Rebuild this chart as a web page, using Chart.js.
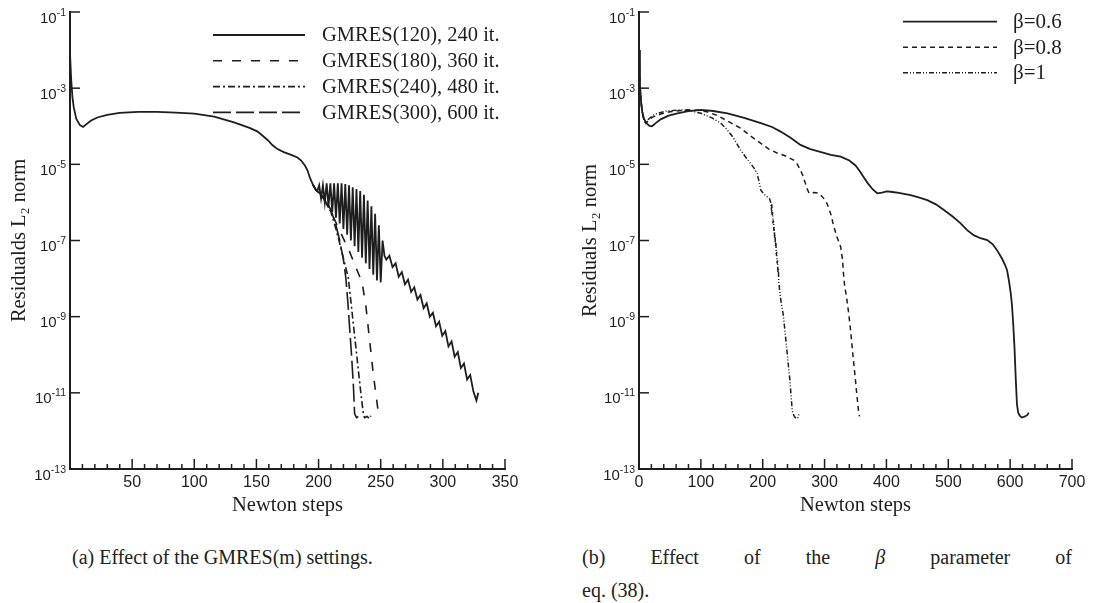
<!DOCTYPE html>
<html>
<head>
<meta charset="utf-8">
<script src="https://cdn.jsdelivr.net/npm/chart.js@4.4.1/dist/chart.umd.min.js"></script>
<style>
  html, body { margin: 0; padding: 0; background: #fff; }
  body { width: 1112px; height: 603px; position: relative; overflow: hidden; }
  canvas { position: absolute; top: 0; }
  #left  { left: 0; }
  #right { left: 556px; }
  .cap { position: absolute; font-family: 'Liberation Serif', 'Times New Roman', serif; font-size: 20px; color: #222; white-space: nowrap; }
</style>
</head>
<body>
<canvas id="left" width="556" height="530"></canvas>
<canvas id="right" width="556" height="530"></canvas>
<div class="cap" style="left:72px; top:546px;">(a) Effect of the GMRES(m) settings.</div>
<div class="cap" style="left:582px; top:546px; width:490px; text-align:justify; text-align-last:justify;">(b) Effect of the <i>β</i> parameter of</div>
<div class="cap" style="left:582px; top:579px;">eq. (38).</div>
<script>
// points are [Newton step, log10(residual)]
const gmres120 = [[0,-2.1],[1,-2.8],[2,-3.25],[3,-3.5],[5,-3.8],[8,-3.97],[10.5,-4.02],[13,-3.95],[17,-3.85],[22,-3.77],
  [30,-3.7],[40,-3.65],[55,-3.62],[70,-3.62],[85,-3.64],[100,-3.67],[116,-3.75],[132,-3.9],[145,-4.05],[151,-4.14],
  [155,-4.25],[159,-4.36],[163,-4.5],[167,-4.6],[172,-4.68],[178,-4.75],[183,-4.82],[186,-4.9],[189,-5.03],[191,-5.15],
  [193,-5.35],[195.5,-5.54],[198,-5.68],[199,-5.7],
  [200.5,-5.55],[202,-5.9],[203.5,-5.55],[205,-6.0],[206.5,-5.5],[208,-6.1],[209.5,-5.5],[211,-6.25],[212.5,-5.5],[214,-6.4],
  [215.5,-5.5],[217,-6.55],[218.5,-5.5],[220,-6.7],[221.5,-5.52],[223,-6.85],[224.5,-5.55],[226,-7.0],[227.5,-5.6],[229,-7.15],
  [230.5,-5.65],[232,-7.3],[233.5,-5.7],[235,-7.45],[236.5,-5.8],[238,-7.6],[239.5,-5.95],[241,-7.75],[242.5,-6.1],[244,-7.9],
  [245.5,-6.3],[247,-8.05],[248.5,-6.6],[250,-8.1],[251.5,-7.0],[253,-7.4],
  [254.5,-7.5],[257,-7.4],[259.5,-7.7],[262,-7.6],[264.5,-7.95],[267,-7.83],[269.5,-8.15],[272,-8.03],[274.5,-8.35],[277,-8.23],
  [279.5,-8.55],[282,-8.43],[284.5,-8.78],[287,-8.65],[289.5,-9.0],[292,-8.9],[294.5,-9.25],[297,-9.13],[299.5,-9.5],[302,-9.38],
  [304.5,-9.78],[307,-9.65],[309.5,-10.05],[312,-9.93],[314.5,-10.35],[317,-10.23],[319.5,-10.65],[322,-10.53],[324.5,-10.95],
  [327,-11.2],[328.5,-11.0]];
const gmres180 = [[195.5,-5.54],[198,-5.68],[201,-5.76],[205,-5.95],[210,-6.25],[215,-6.6],[220,-6.95],[225,-7.3],[230,-7.7],
  [235,-8.1],[238,-8.7],[240,-9.3],[242,-9.9],[244,-10.5],[246,-11.0],[248,-11.5],[249,-11.62]];
const gmres240 = [[195.5,-5.54],[198,-5.68],[201,-5.76],[205,-5.95],[210,-6.25],[214,-6.7],[218,-7.2],[221,-7.6],[224,-8.0],
  [226,-8.6],[228,-9.2],[230,-9.8],[232,-10.4],[234,-11.0],[236,-11.55],[237,-11.65],[239,-11.62],[241,-11.68],[242,-11.6]];
const gmres300 = [[195.5,-5.54],[198,-5.68],[201,-5.76],[205,-5.9],[210,-6.2],[214,-6.6],[217,-7.0],[220,-7.5],[222,-8.0],
  [223.5,-8.6],[225,-9.3],[226.5,-10.0],[228,-10.8],[229,-11.55],[230.5,-11.65],[232,-11.62]];

const beta06 = [[0,-2.0],[1.5,-2.9],[3,-3.3],[5,-3.6],[8,-3.8],[12,-3.92],[17,-3.99],[21,-4.0],[26,-3.93],[35,-3.82],
  [48,-3.72],[62,-3.66],[80,-3.6],[100,-3.57],[120,-3.6],[143,-3.66],[170,-3.78],[197,-3.92],[215,-4.02],[229,-4.14],
  [245,-4.3],[261,-4.49],[277,-4.6],[293,-4.67],[310,-4.75],[326,-4.8],[340,-4.9],[350,-5.03],[357,-5.18],[363,-5.33],
  [370,-5.5],[378,-5.66],[385,-5.76],[393,-5.74],[400,-5.71],[407,-5.72],[420,-5.75],[439,-5.81],[452,-5.87],[466,-5.94],
  [480,-6.05],[493,-6.2],[507,-6.37],[520,-6.55],[530,-6.72],[541,-6.86],[552,-6.94],[563,-6.99],[572,-7.1],[579,-7.26],
  [587,-7.48],[592,-7.65],[595,-7.78],[598,-8.05],[601,-8.39],[603,-8.7],[605,-9.2],[607,-9.8],[609,-10.6],[611,-11.3],
  [613,-11.52],[615.5,-11.6],[619,-11.65],[624,-11.62],[628,-11.58],[630,-11.52]];
const beta08 = [[0,-2.0],[1.5,-2.9],[3,-3.3],[5,-3.6],[8,-3.85],[11,-3.92],[15,-3.85],[22,-3.76],[35,-3.68],[50,-3.62],
  [78,-3.57],[95,-3.58],[110,-3.62],[127,-3.72],[145,-3.88],[164,-4.05],[180,-4.25],[197,-4.45],[210,-4.6],[224,-4.71],
  [237,-4.78],[250,-4.89],[256,-5.0],[261,-5.15],[265,-5.3],[269,-5.5],[272,-5.65],[275,-5.76],[283,-5.74],[291,-5.76],
  [298,-5.88],[304,-6.03],[310,-6.3],[315,-6.64],[320,-6.9],[326,-7.17],[329,-7.5],[331,-7.96],[332.5,-8.2],[335.5,-8.48],
  [339,-8.92],[342,-9.35],[344.6,-9.8],[347,-10.2],[350,-10.68],[352.5,-11.1],[355,-11.5],[356.5,-11.62]];
const beta10 = [[0,-2.0],[1.5,-2.9],[3,-3.3],[5,-3.6],[8,-3.85],[11,-3.92],[15,-3.82],[22,-3.72],[30,-3.66],[45,-3.6],
  [67,-3.57],[85,-3.6],[100,-3.66],[118,-3.78],[132,-3.92],[142,-4.08],[151,-4.27],[158,-4.45],[164,-4.62],[172,-4.8],
  [180,-4.97],[186,-5.1],[191,-5.24],[194,-5.45],[197,-5.68],[202,-5.78],[207,-5.85],[211,-5.9],[213,-6.0],[214,-6.15],
  [214.7,-6.05],[215.3,-6.35],[216,-6.25],[216.6,-6.55],[217.3,-6.45],[218,-6.75],[218.6,-6.65],[219.3,-6.95],[220,-6.85],
  [220.6,-7.15],[221.3,-7.05],[222,-7.4],[222.6,-7.3],[223.3,-7.6],[224,-7.5],[224.6,-7.85],[225.3,-7.75],[226,-8.1],
  [228,-8.4],[230,-8.65],[233,-8.92],[235.8,-9.35],[238.6,-9.8],[241.3,-10.25],[244,-10.68],[246,-11.1],[247.7,-11.47],
  [250.4,-11.6],[254,-11.68],[257,-11.65],[258.5,-11.55]];

const leftLabels  = ['GMRES(120), 240 it.', 'GMRES(180), 360 it.', 'GMRES(240), 480 it.', 'GMRES(300), 600 it.'];
const rightLabels = ['β=0.6', 'β=0.8', 'β=1'];
const leftXTicks  = [50, 100, 150, 200, 250, 300, 350];
const rightXTicks = [0, 100, 200, 300, 400, 500, 600, 700];
const yTickExps   = [-1, -3, -5, -7, -9, -11, -13];

const INK = '#1e1e1e';
const SANS = "'Liberation Sans', Arial, sans-serif";
const SERIF = "'Liberation Serif', 'Times New Roman', serif";

// inward tick marks, exponent tick labels and an in-plot legend
const axisDecor = {
  id: 'axisDecor',
  afterDraw(chart, args, o) {
    const { ctx, chartArea: a, scales: { x, y } } = chart;
    ctx.save();
    ctx.strokeStyle = INK;
    ctx.fillStyle = INK;
    ctx.lineWidth = 1.5;
    ctx.setLineDash([]);

    x.ticks.forEach(t => {
      const px = x.getPixelForValue(t.value);
      const major = Math.abs(t.value / o.major - Math.round(t.value / o.major)) < 1e-6;
      ctx.beginPath();
      ctx.moveTo(px, a.bottom);
      ctx.lineTo(px, a.bottom - (major ? 10 : 5));
      ctx.stroke();
    });

    yTickExps.forEach(e => {
      const py = y.getPixelForValue(Math.pow(10, e));
      ctx.beginPath();
      ctx.moveTo(a.left, py);
      ctx.lineTo(a.left + 10, py);
      ctx.stroke();

      const sup = String(e);
      ctx.font = '10.5px ' + SANS;
      const wSup = ctx.measureText(sup).width;
      ctx.font = '15px ' + SANS;
      const wBase = ctx.measureText('10').width;
      const right = a.left - 4;
      ctx.textAlign = 'left';
      ctx.textBaseline = 'alphabetic';
      ctx.fillText('10', right - wSup - wBase, py + 10.5);
      ctx.font = '10.5px ' + SANS;
      ctx.fillText(sup, right - wSup, py + 3.5);
    });

    const lg = o.legend;
    chart.data.datasets.forEach((ds, i) => {
      const ly = lg.y0 + i * lg.dy;
      ctx.lineWidth = ds.borderWidth;
      ctx.setLineDash(ds.borderDash || []);
      ctx.beginPath();
      ctx.moveTo(lg.x0, ly);
      ctx.lineTo(lg.x1, ly);
      ctx.stroke();
      ctx.setLineDash([]);
      ctx.font = lg.size + 'px ' + SERIF;
      ctx.textAlign = 'left';
      ctx.textBaseline = 'middle';
      ctx.fillText(ds.label, lg.tx, ly + 1);
    });
    ctx.restore();
  }
};

function toPoints(arr) {
  return arr.map(p => ({ x: p[0], y: Math.pow(10, p[1]) }));
}

function makeChart(id, series, cfg) {
  return new Chart(document.getElementById(id), {
    type: 'line',
    data: {
      datasets: series.map(s => ({
        label: s.label,
        data: toPoints(s.points),
        borderColor: INK,
        borderWidth: s.width,
        borderDash: s.dash,
        pointRadius: 0,
        tension: 0,
        fill: false,
      }))
    },
    options: {
      responsive: false,
      animation: false,
      layout: { padding: { left: 0, right: cfg.padRight, top: 12, bottom: 0 } },
      plugins: {
        legend: { display: false },
        tooltip: { enabled: false },
        axisDecor: { major: cfg.major, legend: cfg.legend },
      },
      scales: {
        x: {
          type: 'linear',
          min: 0,
          max: cfg.xMax,
          grid: { display: false, drawTicks: false },
          border: { display: true, color: INK, width: 2 },
          ticks: {
            stepSize: cfg.minor,
            autoSkip: false,
            maxRotation: 0,
            padding: 4,
            color: INK,
            font: { family: SANS, size: 16 },
            callback: v => {
              const r = Math.round(v);
              return Math.abs(v - r) < 1e-6 && cfg.xLabels.includes(r) ? String(r) : '';
            }
          },
          title: {
            display: true,
            text: 'Newton steps',
            color: INK,
            font: { family: SERIF, size: 20.5 },
            padding: { top: 0, bottom: 12 }
          },
          afterFit: s => { s.height = 61; }
        },
        y: {
          type: 'logarithmic',
          min: 1e-13,
          max: 1e-1,
          grid: { display: false, drawTicks: false },
          border: { display: true, color: INK, width: 2 },
          ticks: { display: false },
          title: {
            display: true,
            text: cfg.yTitle,
            color: INK,
            font: { family: SERIF, size: 20.5 },
            padding: { top: cfg.yTitlePad, bottom: 0 }
          },
          afterFit: s => { s.width = cfg.yWidth; }
        }
      }
    },
    plugins: [axisDecor]
  });
}

makeChart('left', [
  { label: leftLabels[0], points: gmres120, width: 1.8, dash: [] },
  { label: leftLabels[1], points: gmres180, width: 1.6, dash: [9, 10] },
  { label: leftLabels[2], points: gmres240, width: 1.6, dash: [7, 3, 2, 3] },
  { label: leftLabels[3], points: gmres300, width: 1.6, dash: [18, 5] },
], {
  xMax: 350, minor: 10, major: 50, xLabels: leftXTicks,
  yTitle: 'Residualds L₂ norm', yTitlePad: 7, yWidth: 70, padRight: 51,
  legend: { x0: 213, x1: 305, tx: 322, y0: 35, dy: 25.8, size: 20.5 }
});

makeChart('right', [
  { label: rightLabels[0], points: beta06, width: 1.8, dash: [] },
  { label: rightLabels[1], points: beta08, width: 1.5, dash: [5, 4] },
  { label: rightLabels[2], points: beta10, width: 1.5, dash: [5, 2, 1, 2, 1, 2] },
], {
  xMax: 700, minor: 20, major: 100, xLabels: rightXTicks,
  yTitle: 'Residuals L₂ norm', yTitlePad: 22, yWidth: 83, padRight: 40,
  legend: { x0: 347, x1: 441, tx: 457, y0: 21.7, dy: 25.5, size: 21 }
});
</script>
</body>
</html>
